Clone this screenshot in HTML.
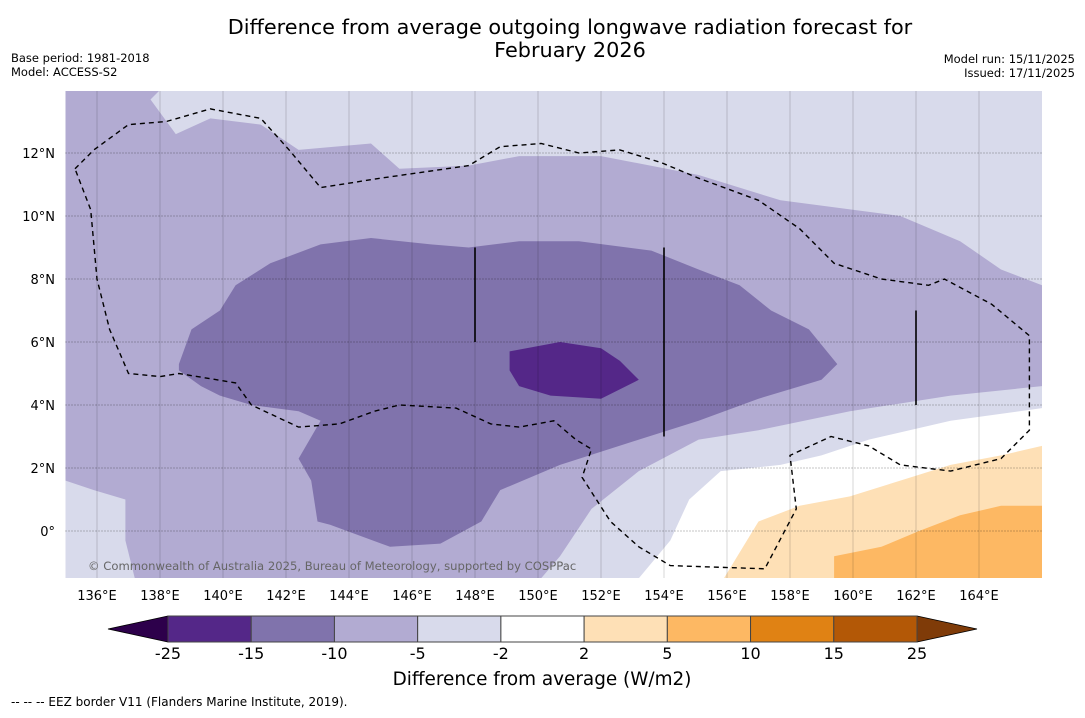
<!DOCTYPE html>
<html><head><meta charset="utf-8"><style>
body{margin:0;background:#fff;width:1085px;height:713px;overflow:hidden;font-family:"Liberation Sans","DejaVu Sans",sans-serif}
svg text{font-family:"DejaVu Sans","Liberation Sans",sans-serif}
</style></head><body>
<svg id="chart" width="1085" height="713" viewBox="0 0 1085 713" xmlns="http://www.w3.org/2000/svg">
<text x="570" y="34" font-size="20.8" text-anchor="middle">Difference from average outgoing longwave radiation forecast for</text>
<text x="570" y="57" font-size="20.8" text-anchor="middle">February 2026</text>
<text x="11" y="62" font-size="11.5">Base period: 1981-2018</text>
<text x="11" y="76" font-size="11.5">Model: ACCESS-S2</text>
<text x="1075" y="63" font-size="11.5" text-anchor="end">Model run: 15/11/2025</text>
<text x="1075" y="77" font-size="11.5" text-anchor="end">Issued: 17/11/2025</text>
<defs><clipPath id="pc"><rect x="65.5" y="91" width="976.5" height="487"/></clipPath></defs>
<g id="plot" clip-path="url(#pc)"></g>
<g id="axes"></g>
<g id="cbar"></g>
<text x="542" y="685" font-size="18.4" text-anchor="middle">Difference from average (W/m2)</text>
<text x="11" y="706" font-size="12">--  --  -- EEZ border V11 (Flanders Marine Institute, 2019).</text>
</svg>
<script>
const lonTicks=[136,138,140,142,144,146,148,150,152,154,156,158,160,162,164];
const latTicks=[0,2,4,6,8,10,12];
const cbBounds=[-25,-15,-10,-5,-2,2,5,10,15,25];
const cbColors=['#542788','#8073ac','#b2abd2','#d8daeb','#ffffff','#fee0b6','#fdb863','#e08214','#b35806'];
const cbUnder='#2d004b', cbOver='#7f3b08';
const lightTop=[[138.0,14.0],[137.7,13.7],[138.5,12.6],[139.6,13.1],[141.2,12.9],[142.4,12.1],[144.7,12.3],[145.6,11.5],[147.8,11.6],[149.4,11.9],[152.0,11.9],[155.1,11.3],[157.7,10.5],[161.5,10.0],[163.4,9.2],[164.7,8.3],[166,7.8],[166,14]];
const lightBR=[[166,4.6],[163.1,4.3],[159.9,3.8],[157.0,3.2],[155.1,2.9],[153.2,1.9],[151.7,0.7],[150.7,-0.8],[150.1,-1.5],[166,-1.5]];
const whiteBR=[[153.2,-1.5],[154.2,-0.3],[154.8,1.0],[155.8,1.9],[157.7,2.1],[159.0,2.4],[160.5,2.9],[163.1,3.5],[166,3.9],[166,-1.5]];
const lightOrange=[[155.9,-1.5],[157.0,0.3],[158.3,0.8],[159.9,1.1],[161.5,1.6],[163.1,2.1],[164.7,2.4],[166,2.7],[166,-1.5]];
const orange=[[159.4,-1.5],[159.4,-0.8],[160.9,-0.5],[162.1,0.0],[163.4,0.5],[164.7,0.8],[166,0.8],[166,-1.5]];
const lightBL=[[135,1.6],[135.9,1.3],[136.9,1.0],[136.9,-0.3],[137.2,-1.5],[135,-1.5]];
const darkCore=[[138.6,5.3],[139.0,6.4],[139.9,7.0],[140.4,7.8],[141.5,8.5],[143.1,9.1],[144.7,9.3],[146.6,9.1],[147.8,9.0],[149.4,9.2],[151.3,9.2],[153.6,8.9],[155.1,8.3],[156.4,7.8],[157.4,7.0],[158.6,6.4],[159.5,5.3],[159.0,4.8],[157.0,4.2],[155.1,3.5],[153.2,2.9],[150.7,2.1],[148.8,1.3],[148.2,0.3],[146.9,-0.4],[145.3,-0.5],[143.4,0.2],[143.0,0.3],[142.8,1.6],[142.4,2.3],[143.1,3.5],[142.4,3.8],[140.9,4.0],[139.9,4.3],[139.3,4.6],[138.6,5.1]];
const darkest=[[149.1,5.7],[150.7,6.0],[152.0,5.8],[152.6,5.4],[153.2,4.8],[152.0,4.2],[150.4,4.3],[149.4,4.6],[149.1,5.1]];
const eez=[[135.3,11.5],[135.9,12.1],[137.0,12.9],[138.2,13.0],[139.6,13.4],[141.2,13.1],[142.1,12.1],[143.1,10.9],[145.0,11.2],[147.8,11.6],[148.8,12.2],[150.1,12.3],[151.3,12.0],[152.6,12.1],[153.9,11.7],[155.1,11.2],[157.0,10.5],[158.3,9.6],[159.4,8.5],[160.9,8.0],[162.4,7.8],[162.9,8.0],[164.4,7.2],[165.6,6.2],[165.6,3.2],[164.7,2.3],[163.1,1.9],[161.5,2.1],[160.5,2.7],[159.3,3.0],[158.0,2.4],[158.2,0.7],[157.2,-1.2],[154.2,-1.1],[153.2,-0.5],[152.3,0.3],[151.4,1.7],[151.7,2.6],[151.2,2.9],[150.5,3.5],[149.4,3.3],[148.5,3.4],[147.4,3.9],[145.6,4.0],[144.8,3.8],[143.7,3.4],[142.4,3.3],[140.9,4.0],[140.4,4.7],[138.6,5.0],[138.0,4.9],[137.0,5.0],[136.4,6.4],[136.0,8.0],[135.8,10.2]];
const segLon=[148,154,162], segLat0=[6,3,4], segLat1=[9,9,7];

const NS='http://www.w3.org/2000/svg';
const X=lon=>65.5+(lon-135)*31.5, Y=lat=>531-lat*31.5;
function mk(tag,attrs,parent){const e=document.createElementNS(NS,tag);for(const k in attrs)e.setAttribute(k,attrs[k]);parent.appendChild(e);return e;}
const plot=document.getElementById('plot'), axes=document.getElementById('axes'), cb=document.getElementById('cbar');
const pts=a=>a.map(p=>X(p[0]).toFixed(1)+','+Y(p[1]).toFixed(1)).join(' ');
let bg=mk('rect',{x:65.5,y:91,width:976.5,height:487,fill:'#b2abd2'},plot);


const layers=[[lightTop,'#d8daeb','region-light-north'],[lightBR,'#d8daeb','region-light-southeast'],[whiteBR,'#ffffff','region-neutral'],[lightOrange,'#fee0b6','region-positive-2-5'],[orange,'#fdb863','region-positive-5-10'],[lightBL,'#d8daeb','region-light-southwest'],[darkCore,'#8073ac','region-negative-10-15'],[darkest,'#542788','region-negative-15-25']];
layers.forEach(l=>{const p=mk('polygon',{points:pts(l[0]),fill:l[1]},plot);

});
lonTicks.forEach(v=>{const g=mk('line',{x1:X(v),x2:X(v),y1:91,y2:578,stroke:'#000','stroke-opacity':0.2,'stroke-width':0.8},plot);


const t=mk('text',{x:X(v),y:600,'font-size':13,'text-anchor':'middle'},axes);t.textContent=v+'°E';

});
latTicks.forEach(v=>{const g=mk('line',{x1:65.5,x2:1042,y1:Y(v),y2:Y(v),stroke:'#000','stroke-opacity':0.45,'stroke-width':1,'stroke-dasharray':'1,2'},plot);


const t=mk('text',{x:55,y:Y(v)+5,'font-size':13,'text-anchor':'end'},axes);t.textContent=(v===0?'0°':v+'°N');

});
const ez=mk('polygon',{points:pts(eez),fill:'none',stroke:'#000','stroke-width':1.4,'stroke-dasharray':'5,4'},plot);


segLon.forEach((v,i)=>{const l=mk('line',{x1:X(v),x2:X(v),y1:Y(segLat1[i]),y2:Y(segLat0[i]),stroke:'#000','stroke-width':1.6},plot);

});
const cp=mk('text',{x:88,y:570,'font-size':11.6,fill:'#666'},plot);cp.textContent='© Commonwealth of Australia 2025, Bureau of Meteorology, supported by COSPPac';


const cx0=168,cx1=917,cy=616,ch=26,n=cbColors.length,bw=(cx1-cx0)/n;
let tri=mk('polygon',{points:`${cx0},${cy} ${cx0},${cy+ch} 108,${cy+ch/2}`,fill:cbUnder,stroke:'#000','stroke-width':0.8},cb);


tri=mk('polygon',{points:`${cx1},${cy} ${cx1},${cy+ch} 977,${cy+ch/2}`,fill:cbOver,stroke:'#000','stroke-width':0.8},cb);


cbColors.forEach((c,i)=>{const r=mk('rect',{x:cx0+i*bw,y:cy,width:bw,height:ch,fill:c,stroke:'#444','stroke-width':1},cb);

});
cbBounds.forEach((v,i)=>{const t=mk('text',{x:cx0+i*bw,y:659,'font-size':16,'text-anchor':'middle'},cb);t.textContent=v;

});
</script>
</body></html>
